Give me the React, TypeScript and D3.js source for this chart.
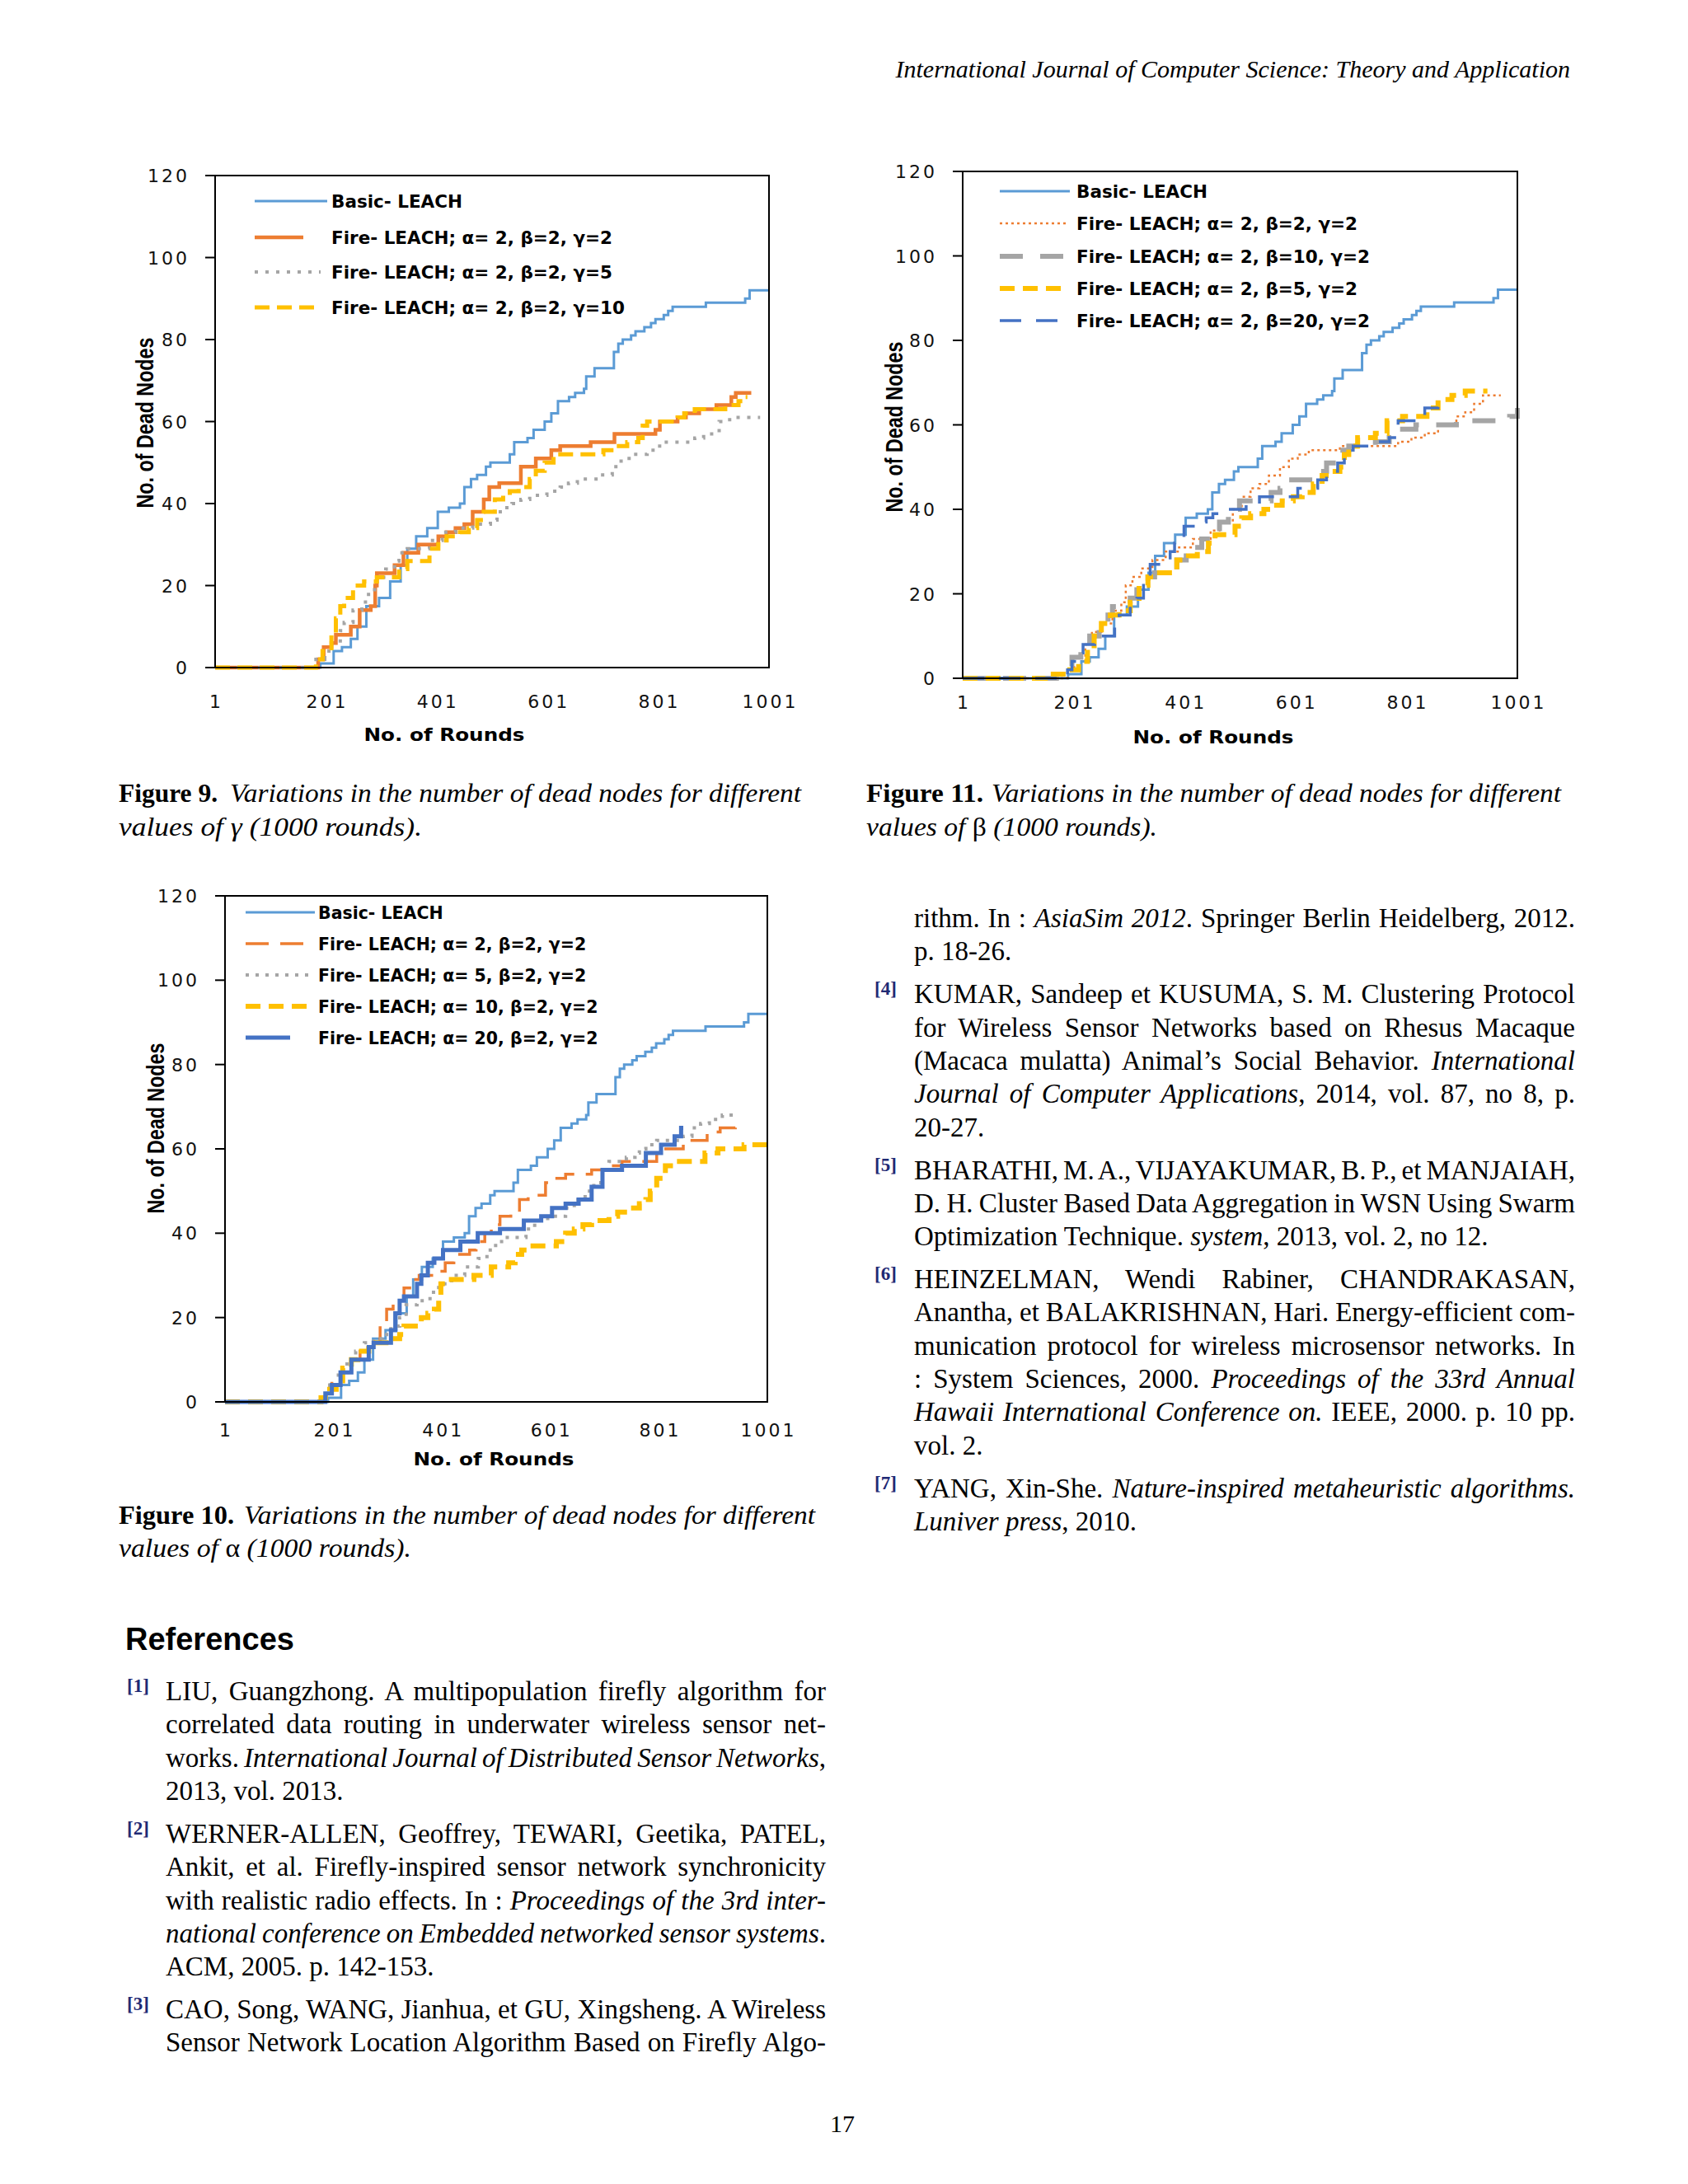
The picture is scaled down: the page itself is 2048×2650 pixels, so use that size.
import * as d3 from 'd3';
import { useLayoutEffect, useRef } from 'react';

type Pt = [number, number];

// x: round number, y: cumulative dead nodes
const roundTicks = [1, 201, 401, 601, 801, 1001];
const nodeTicks = [0, 20, 40, 60, 80, 100, 120];

const basicLeach: Pt[] = [[1,0],[191,1],[215,4],[230,5],[246,7],[258,10],[274,15],[297,17],[317,21],[336,25],[348,29],[364,32],[384,34],[403,38],[423,39],[443,40],[451,44],[463,46],[474,47],[490,49],[498,50],[533,52],[541,55],[565,56],[576,58],[596,60],[608,62],[620,65],[640,66],[651,67],[667,68],[671,71],[686,73],[721,77],[729,79],[737,80],[752,81],[760,82],[776,83],[788,84],[796,85],[811,86],[819,87],[827,88],[887,89],[958,90],[966,92],[1001,92]];

// Figure 9 (gamma)
const gamma2: Pt[] = [[1,0],[187,2],[197,5],[211,6],[219,8],[246,10],[262,14],[282,15],[290,20],[293,23],[325,25],[341,28],[368,30],[404,32],[419,33],[435,34],[451,35],[466,38],[486,41],[496,44],[514,45],[553,49],[580,51],[608,53],[624,54],[679,55],[722,57],[796,58],[804,60],[836,61],[851,62],[875,63],[906,64],[933,66],[941,67],[969,67]];
const gamma5: Pt[] = [[1,0],[183,2],[199,4],[211,6],[227,9],[234,11],[250,14],[266,16],[278,19],[293,22],[309,24],[325,26],[333,28],[348,29],[388,31],[411,33],[435,34],[466,35],[498,36],[510,38],[521,39],[537,40],[553,41],[569,42],[600,43],[624,44],[639,45],[655,46],[694,47],[718,49],[734,51],[757,52],[781,53],[797,54],[812,55],[867,56],[883,57],[911,60],[930,61],[985,61]];
const gamma10: Pt[] = [[1,0],[183,2],[195,4],[211,8],[219,12],[227,15],[234,17],[250,20],[270,21],[293,22],[333,24],[348,26],[388,29],[404,31],[419,32],[443,33],[459,34],[474,36],[486,38],[506,41],[521,42],[533,43],[549,44],[569,46],[580,48],[596,50],[612,52],[702,53],[726,54],[745,55],[765,56],[773,59],[781,60],[836,61],[848,62],[867,63],[922,64],[946,65],[958,66],[962,66]];

// Figure 11 (beta)
const beta2: Pt[] = [[1,0],[190,2],[202,5],[222,8],[234,11],[251,13],[271,16],[287,18],[295,22],[307,24],[323,26],[343,28],[367,30],[391,31],[416,33],[448,35],[464,37],[488,40],[504,43],[520,45],[536,46],[553,48],[573,50],[589,52],[605,53],[625,54],[681,55],[786,56],[810,57],[834,58],[858,60],[891,62],[907,63],[923,65],[939,67],[971,67]];
const beta10: Pt[] = [[1,0],[170,1],[186,2],[198,5],[214,7],[230,10],[247,12],[263,15],[271,17],[303,19],[315,21],[335,24],[347,25],[387,28],[404,29],[420,31],[432,33],[448,34],[464,37],[480,40],[500,42],[557,44],[573,45],[585,47],[633,49],[657,51],[681,54],[697,55],[745,56],[770,57],[794,59],[818,60],[891,61],[987,62],[1001,64]];
const beta5: Pt[] = [[1,0],[150,1],[194,2],[210,4],[226,7],[238,10],[251,13],[267,15],[283,16],[303,18],[319,22],[335,24],[351,25],[387,28],[408,29],[424,30],[444,32],[456,34],[492,36],[504,38],[520,39],[544,40],[561,41],[577,42],[597,43],[613,44],[633,46],[649,48],[665,49],[681,50],[689,53],[697,55],[713,57],[745,58],[766,61],[794,62],[838,64],[858,66],[883,67],[907,68],[947,68]];
const beta20: Pt[] = [[1,0],[190,2],[198,4],[206,6],[218,8],[239,10],[275,14],[283,15],[303,17],[315,19],[327,23],[339,27],[359,28],[375,30],[383,32],[391,33],[400,36],[420,37],[440,38],[452,39],[472,40],[512,41],[536,43],[605,45],[641,47],[657,49],[677,51],[689,54],[705,55],[742,56],[770,57],[786,61],[834,64],[858,66],[866,66]];

// Figure 10 (alpha)
const alpha2: Pt[] = [[1,0],[186,2],[198,5],[214,7],[234,10],[250,12],[271,14],[287,18],[299,22],[311,24],[331,27],[347,29],[359,30],[391,31],[407,33],[423,35],[452,36],[464,38],[480,40],[492,42],[508,44],[528,45],[544,48],[560,49],[592,52],[608,53],[629,54],[677,55],[709,56],[733,57],[797,60],[846,62],[890,64],[914,65],[942,67],[946,67]];
const alpha5: Pt[] = [[1,0],[182,2],[194,4],[210,7],[226,10],[242,12],[258,14],[275,15],[291,16],[307,18],[323,20],[335,23],[355,24],[379,26],[395,28],[419,30],[443,32],[468,34],[484,36],[500,38],[516,39],[556,41],[572,43],[596,44],[629,46],[645,48],[665,50],[681,52],[697,55],[709,57],[741,58],[757,59],[765,60],[777,61],[797,62],[846,63],[862,65],[878,66],[894,67],[918,68],[942,68]];
const alpha10: Pt[] = [[1,0],[178,1],[194,3],[206,5],[218,8],[234,10],[246,12],[266,14],[307,15],[323,16],[331,18],[363,20],[375,21],[387,22],[395,24],[399,28],[411,29],[460,30],[492,32],[524,33],[536,35],[548,36],[564,37],[612,38],[629,40],[645,41],[661,42],[677,43],[709,44],[725,45],[745,46],[765,47],[777,48],[785,50],[797,53],[813,56],[830,57],[886,59],[910,60],[958,61],[1001,61]];
const alpha20: Pt[] = [[1,0],[186,2],[198,4],[214,7],[234,10],[266,13],[275,14],[307,17],[315,21],[323,24],[331,25],[355,28],[363,30],[375,33],[387,34],[403,36],[435,38],[467,40],[508,41],[552,43],[584,44],[604,46],[629,47],[653,48],[677,51],[697,55],[733,56],[777,59],[805,61],[830,63],[842,65],[846,65]];

const BLUE = '#5b9bd5', ORANGE = '#ed7d31', GRAY = '#a5a5a5', GOLD = '#ffc000', DBLUE = '#4472c4';
const CHART_FONT = "'DejaVu Sans', Verdana, sans-serif";
const SERIF = "'Liberation Serif', 'Times New Roman', serif";

type Series = { label: string; data: Pt[]; color: string; width: number; dash?: string; legendEnd: number };

type ChartCfg = {
  left: number; top: number; right: number; bottom: number;
  xLabelDy: number;
  yTitle: [number, number];
  xTitle: [number, number];
  legendX: number; legendTextX: number; legendRows: number[]; legendSize: number;
  series: Series[];
};

const fig9: ChartCfg = {
  left: 261, top: 213, right: 933, bottom: 810, xLabelDy: 49,
  yTitle: [175, 513], xTitle: [539, 899],
  legendX: 309, legendTextX: 402, legendRows: [244, 288, 330, 373], legendSize: 21.5,
  series: [
    { label: 'Basic- LEACH', data: basicLeach, color: BLUE, width: 3, legendEnd: 397 },
    { label: 'Fire- LEACH; α= 2, β=2, γ=2', data: gamma2, color: ORANGE, width: 4.5, legendEnd: 368 },
    { label: 'Fire- LEACH; α= 2, β=2, γ=5', data: gamma5, color: GRAY, width: 4, dash: '4 9', legendEnd: 389 },
    { label: 'Fire- LEACH; α= 2, β=2, γ=10', data: gamma10, color: GOLD, width: 5, dash: '18 9', legendEnd: 389 },
  ],
};

const fig11: ChartCfg = {
  left: 1168, top: 208, right: 1841, bottom: 823, xLabelDy: 37,
  yTitle: [1084, 518], xTitle: [1472, 902],
  legendX: 1213, legendTextX: 1306, legendRows: [232, 271, 311, 350, 389], legendSize: 21.5,
  series: [
    { label: 'Basic- LEACH', data: basicLeach, color: BLUE, width: 3, legendEnd: 1298 },
    { label: 'Fire- LEACH; α= 2, β=2, γ=2', data: beta2, color: ORANGE, width: 2.5, dash: '3 4', legendEnd: 1296 },
    { label: 'Fire- LEACH; α= 2, β=10, γ=2', data: beta10, color: GRAY, width: 6, dash: '28 21', legendEnd: 1296 },
    { label: 'Fire- LEACH; α= 2, β=5, γ=2', data: beta5, color: GOLD, width: 6, dash: '18 10', legendEnd: 1296 },
    { label: 'Fire- LEACH; α= 2, β=20, γ=2', data: beta20, color: DBLUE, width: 3.5, dash: '26 18', legendEnd: 1298 },
  ],
};

const fig10: ChartCfg = {
  left: 273, top: 1087, right: 931, bottom: 1701, xLabelDy: 42,
  yTitle: [188, 1369], xTitle: [599, 1778],
  legendX: 298, legendTextX: 386, legendRows: [1107, 1145, 1183, 1221, 1259], legendSize: 20.5,
  series: [
    { label: 'Basic- LEACH', data: basicLeach, color: BLUE, width: 3, legendEnd: 382 },
    { label: 'Fire- LEACH; α= 2, β=2, γ=2', data: alpha2, color: ORANGE, width: 3.5, dash: '28 14', legendEnd: 382 },
    { label: 'Fire- LEACH; α= 5, β=2, γ=2', data: alpha5, color: GRAY, width: 4, dash: '4 8', legendEnd: 380 },
    { label: 'Fire- LEACH; α= 10, β=2, γ=2', data: alpha10, color: GOLD, width: 6, dash: '18 10', legendEnd: 380 },
    { label: 'Fire- LEACH; α= 20, β=2, γ=2', data: alpha20, color: DBLUE, width: 5, legendEnd: 352 },
  ],
};

function Chart({ cfg }: { cfg: ChartCfg }) {
  const x = d3.scaleLinear().domain([1, 1001]).range([cfg.left, cfg.right]);
  const y = d3.scaleLinear().domain([0, 120]).range([cfg.bottom, cfg.top]);
  const line = d3.line<Pt>().x(d => x(d[0])).y(d => y(d[1])).curve(d3.curveStepAfter);

  return (
    <g fontFamily={CHART_FONT}>
      {cfg.series.map((s, i) => (
        <path key={i} d={line(s.data) ?? ''} fill="none" stroke={s.color} strokeWidth={s.width}
          strokeDasharray={s.dash} strokeLinejoin="miter" />
      ))}
      <rect x={cfg.left} y={cfg.top} width={cfg.right - cfg.left} height={cfg.bottom - cfg.top}
        fill="none" stroke="#000" strokeWidth={2} />
      {nodeTicks.map(v => (
        <g key={v}>
          <line x1={cfg.left - 12} x2={cfg.left} y1={y(v)} y2={y(v)} stroke="#000" strokeWidth={2} />
          <text x={cfg.left - 31} y={y(v) + 8} textAnchor="end" fontSize={22} letterSpacing={3} fill="#111">{v}</text>
        </g>
      ))}
      {roundTicks.map(v => (
        <text key={v} x={x(v) + 1.5} y={cfg.bottom + cfg.xLabelDy} textAnchor="middle" fontSize={22}
          letterSpacing={3} fill="#111">{v}</text>
      ))}
      <text transform={`translate(${cfg.yTitle[0]},${cfg.yTitle[1]}) rotate(-90)`} textAnchor="middle" dy="0.36em"
        fontFamily="'Liberation Sans', Arial, sans-serif" fontWeight="bold" fontSize={30}
        textLength={207} lengthAdjust="spacingAndGlyphs">No. of Dead Nodes</text>
      <text x={cfg.xTitle[0]} y={cfg.xTitle[1]} textAnchor="middle" fontWeight="bold" fontSize={22}
        textLength={195} lengthAdjust="spacingAndGlyphs">No. of Rounds</text>
      {cfg.series.map((s, i) => (
        <g key={i}>
          <line x1={cfg.legendX} x2={s.legendEnd} y1={cfg.legendRows[i]} y2={cfg.legendRows[i]}
            stroke={s.color} strokeWidth={s.width} strokeDasharray={s.dash} />
          <text x={cfg.legendTextX} y={cfg.legendRows[i] + 8} fontSize={cfg.legendSize} fontWeight="bold">{s.label}</text>
        </g>
      ))}
    </g>
  );
}

type Caption = { x: number; y1: number; y2: number; bold: string; boldEnd: number; italStart: number; end1: number; text1: string; greek: string; end2: number };

const captions: Caption[] = [
  { x: 144, y1: 973, y2: 1014, bold: 'Figure 9.', boldEnd: 264, italStart: 279, end1: 972,
    text1: 'Variations in the number of dead nodes for different', greek: 'γ', end2: 512 },
  { x: 1051, y1: 973, y2: 1014, bold: 'Figure 11.', boldEnd: 1193, italStart: 1203, end1: 1894,
    text1: 'Variations in the number of dead nodes for different', greek: 'β', end2: 1404 },
  { x: 144, y1: 1849, y2: 1889, bold: 'Figure 10.', boldEnd: 284, italStart: 296, end1: 989,
    text1: 'Variations in the number of dead nodes for different', greek: 'α', end2: 499 },
];

function CaptionBlock({ c }: { c: Caption }) {
  return (
    <g fontFamily={SERIF} fontSize={32} fill="#000">
      <text x={c.x} y={c.y1} fontWeight="bold" textLength={c.boldEnd - c.x} lengthAdjust="spacingAndGlyphs">{c.bold}</text>
      <text x={c.italStart} y={c.y1} fontStyle="italic" textLength={c.end1 - c.italStart} lengthAdjust="spacingAndGlyphs">{c.text1}</text>
      <text x={c.x} y={c.y2} fontStyle="italic" textLength={c.end2 - c.x} lengthAdjust="spacingAndGlyphs">
        <tspan>values of </tspan>
        <tspan fontStyle={c.greek === 'γ' ? 'italic' : 'normal'}>{c.greek}</tspan>
        <tspan> (1000 rounds).</tspan>
      </text>
    </g>
  );
}

type Ref = { n: string; lines: string[]; cont?: boolean };

const leftRefs: Ref[] = [
  { n: '[1]', lines: [
    'LIU, Guangzhong. A multipopulation firefly algorithm for',
    'correlated data routing in underwater wireless sensor net-',
    'works. _International Journal of Distributed Sensor Networks_,',
    '2013, vol. 2013.'] },
  { n: '[2]', lines: [
    'WERNER-ALLEN, Geoffrey, TEWARI, Geetika, PATEL,',
    'Ankit, et al. Firefly-inspired sensor network synchronicity',
    'with realistic radio effects. In : _Proceedings of the 3rd inter-_',
    '_national conference on Embedded networked sensor systems_.',
    'ACM, 2005. p. 142-153.'] },
  { n: '[3]', cont: true, lines: [
    'CAO, Song, WANG, Jianhua, et GU, Xingsheng. A Wireless',
    'Sensor Network Location Algorithm Based on Firefly Algo-'] },
];

const rightRefs: Ref[] = [
  { n: '', lines: [
    'rithm. In : _AsiaSim 2012_. Springer Berlin Heidelberg, 2012.',
    'p. 18-26.'] },
  { n: '[4]', lines: [
    'KUMAR, Sandeep et KUSUMA, S. M. Clustering Protocol',
    'for Wireless Sensor Networks based on Rhesus Macaque',
    '(Macaca mulatta) Animal’s Social Behavior. _International_',
    '_Journal of Computer Applications_, 2014, vol. 87, no 8, p.',
    '20-27.'] },
  { n: '[5]', lines: [
    'BHARATHI, M. A., VIJAYAKUMAR, B. P., et MANJAIAH,',
    'D. H. Cluster Based Data Aggregation in WSN Using Swarm',
    'Optimization Technique. _system_, 2013, vol. 2, no 12.'] },
  { n: '[6]', lines: [
    'HEINZELMAN, Wendi Rabiner, CHANDRAKASAN,',
    'Anantha, et BALAKRISHNAN, Hari. Energy-efficient com-',
    'munication protocol for wireless microsensor networks. In',
    ': System Sciences, 2000. _Proceedings of the 33rd Annual_',
    '_Hawaii International Conference on._ IEEE, 2000. p. 10 pp.',
    'vol. 2.'] },
  { n: '[7]', lines: [
    'YANG, Xin-She. _Nature-inspired metaheuristic algorithms._',
    '_Luniver press_, 2010.'] },
];

const LINE_STEP = 40.3;
const ENTRY_STEP = 52;

// One reference line; justified lines get their word spacing measured after layout.
function RefLine({ x, y, text, width }: { x: number; y: number; text: string; width?: number }) {
  const ref = useRef<SVGTextElement>(null);
  useLayoutEffect(() => {
    const el = ref.current;
    if (!el || !width) return;
    el.setAttribute('word-spacing', '0');
    const natural = el.getComputedTextLength();
    const gaps = (text.replace(/_/g, '').match(/ /g) || []).length;
    if (gaps > 0) el.setAttribute('word-spacing', String((width - natural) / gaps));
  }, [text, width]);
  const parts = text.split('_');
  return (
    <text ref={ref} x={x} y={y}>
      {parts.map((p, i) => p ? <tspan key={i} fontStyle={i % 2 ? 'italic' : 'normal'}>{p}</tspan> : null)}
    </text>
  );
}

function RefColumn({ refs, numX, textX, rightX, startY }: { refs: Ref[]; numX: number; textX: number; rightX: number; startY: number }) {
  let yy = startY;
  const out: JSX.Element[] = [];
  refs.forEach((r, ri) => {
    if (ri > 0) yy += ENTRY_STEP - LINE_STEP;
    if (r.n) {
      out.push(<text key={`n${ri}`} x={numX} y={yy - 10} fontSize={23} fontWeight="bold" fill="#1f2a74">{r.n}</text>);
    }
    r.lines.forEach((ln, li) => {
      const last = li === r.lines.length - 1 && !r.cont;
      out.push(<RefLine key={`l${ri}-${li}`} x={textX} y={yy} text={ln} width={last ? undefined : rightX - textX} />);
      yy += LINE_STEP;
    });
  });
  return <g fontFamily={SERIF} fontSize={33} fill="#000">{out}</g>;
}

export default function App() {
  return (
    <div style={{ position: 'absolute', left: 0, top: 0 }}>
      <svg width={2048} height={2650} viewBox="0 0 2048 2650" style={{ display: 'block', background: '#fff' }}>
        <rect x={0} y={0} width={2048} height={2650} fill="#fff" />
        <text x={1905} y={94} textAnchor="end" fontFamily={SERIF} fontStyle="italic" fontSize={30}>
          International Journal of Computer Science: Theory and Application
        </text>
        <Chart cfg={fig9} />
        <Chart cfg={fig11} />
        <Chart cfg={fig10} />
        {captions.map((c, i) => <CaptionBlock key={i} c={c} />)}
        <text x={152} y={2002} fontFamily="'Liberation Sans', Arial, sans-serif" fontWeight="bold" fontSize={38}>References</text>
        <RefColumn refs={leftRefs} numX={154} textX={201} rightX={1002} startY={2063} />
        <RefColumn refs={rightRefs} numX={1061} textX={1109} rightX={1911} startY={1125} />
        <text x={1022} y={2587} textAnchor="middle" fontFamily={SERIF} fontSize={30}>17</text>
      </svg>
    </div>
  );
}
